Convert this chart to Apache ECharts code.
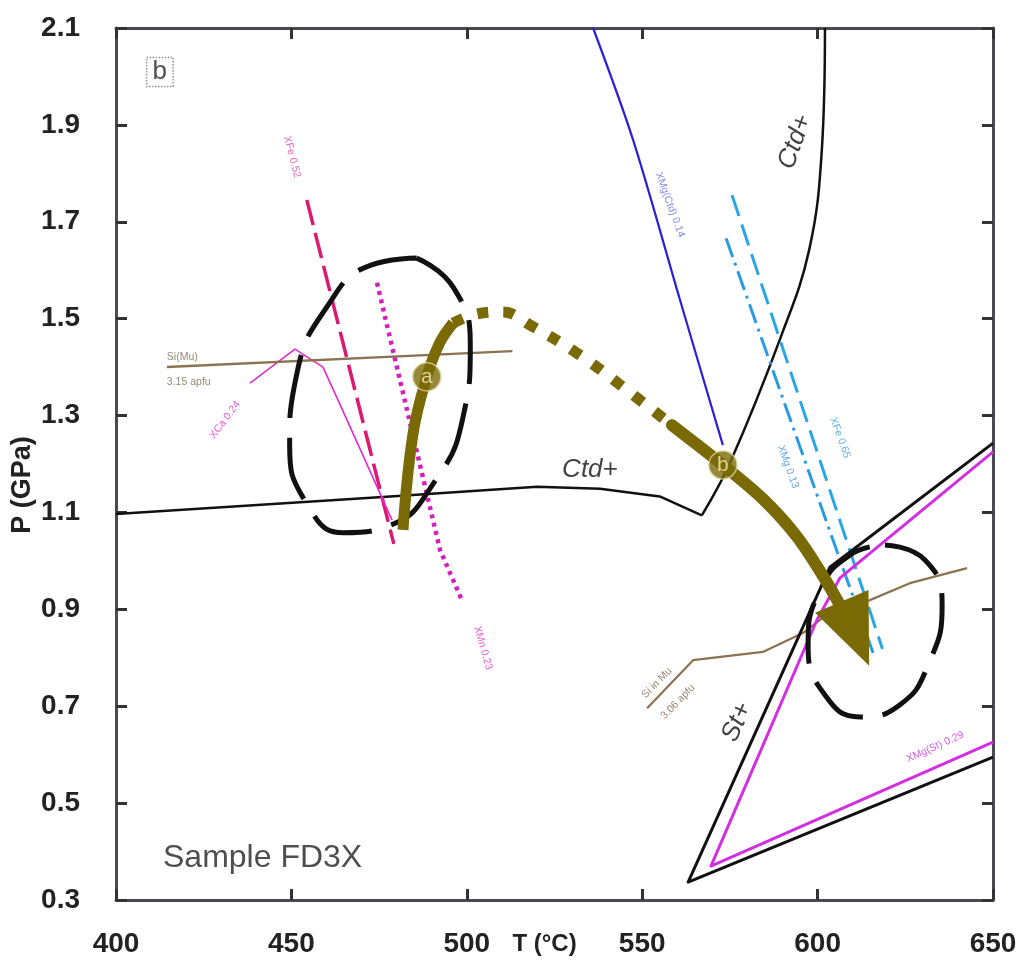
<!DOCTYPE html>
<html><head><meta charset="utf-8">
<script src="https://cdn.jsdelivr.net/npm/echarts@6/dist/echarts.min.js"></script>
<style>html,body{margin:0;padding:0;background:#fff}#c{width:1023px;height:971px}</style>
</head><body><div id="c"></div>
<script>
// ---- axes ----
const xRange = [400, 650];
const yRange = [0.3, 2.1];
const xStep = 50;
const yStep = 0.2;

// ---- curves (T in °C, P in GPa) ----
const ctdLower = [[400,1.097],[476,1.132],[520,1.153],[538,1.149],[555,1.133],[567,1.094]];
const ctdUpper = [[567,1.094],[575,1.202],[589.5,1.462],[597.6,1.642],[601.2,1.848],[602.1,2.1]];
const xMgCtd = [[536,2.1],[547.4,1.869],[560.8,1.538],[573,1.239]];
const xFe065 = [[575.6,1.755],[618.5,0.818]];
const xMg013 = [[573.9,1.666],[616.0,0.806]];
const xFe052 = [[454.4,1.745],[479.2,1.035]];
const xMn023 = [[474.4,1.574],[492.4,1.022],[498.6,0.919]];
const xCa024 = [[438.2,1.367],[451.0,1.437],[459.0,1.400],[463.9,1.322],[476.1,1.126],[478.7,1.084]];
const siMu315 = [[414.5,1.400],[513,1.433]];
const siMu306 = [[551.4,0.696],[564.5,0.795],[584.4,0.812],[595.8,0.851],[604.4,0.899],[614.9,0.919],[626.3,0.954],[642.6,0.985]];
const stBlack = [[650,1.243],[603.5,0.987],[563.1,0.337],[650,0.595]];
const stMagenta = [[650,1.225],[606.4,0.965],[599.8,0.878],[569.6,0.370],[650,0.626]];
const ellipseA = [[485.7,1.625],[496.2,1.564],[501.0,1.443],[498.9,1.296],[490.5,1.160],[478.0,1.073],[464.8,1.058],[454.3,1.119],[449.5,1.240],[451.6,1.388],[460.0,1.523],[472.5,1.610],[485.7,1.625]];
const ellipseB = [[619.2,1.033],[630.6,1.002],[635.5,0.909],[631.5,0.785],[623.5,0.703],[612.1,0.678],[602.1,0.723],[597.3,0.827],[600.7,0.940],[609.2,1.012],[619.2,1.033]];
const pathA = [[481.8,1.064],[484.7,1.264],[488.6,1.380],[492.2,1.449],[496.1,1.491]];
const pathDots = [[496.1,1.491],[503,1.510],[510.3,1.514],[518,1.487],[531.4,1.429],[544.5,1.359],[558.5,1.280]];
const pathB = [[558.5,1.280],[573,1.198],[584.4,1.128],[594.1,1.050],[602.7,0.955],[610.8,0.850]];
const stages = [['a',488.6,1.380],['b',573,1.198]];

// ---- annotations: text, T, P ----
const bigLabels = [['Ctd+',535.1,1.188],['Ctd+',593.6,1.865],['St+',577.0,0.667]];
const smallLabels = [
  ['XFe 0.52',450.2,1.834],['XMn 0.23',504.6,0.820],['XCa 0.24',431.1,1.291],
  ['XMg(Ctd) 0.14',557.9,1.735],['XFe 0.65',606.4,1.254],['XMg 0.13',591.6,1.194],
  ['Si in Mu',554.2,0.748],['3.06 apfu',560.2,0.709],['XMg(St) 0.29',633.5,0.616]
];
const siLabels = [['Si(Mu)',414.5,1.421],['3.15 apfu',414.5,1.369]];
const sampleLabel = ['Sample FD3X',413.4,0.387];
const panelLabel = ['b',412.5,2.009];

const FONT = '"Liberation Sans", Arial, sans-serif';
const OLIVE = '#7a6a06';
const bigRot = [0, 70, 66];
const smallStyle = [
  {c:'#e040b0',r:-75.7},{c:'#e030c8',r:-74},{c:'#e030c8',r:53},
  {c:'#6b6be8',r:-70},{c:'#3aa0e0',r:-70},{c:'#3a8ee0',r:-70},
  {c:'#7a6a50',r:46},{c:'#7a6a50',r:46},{c:'#d030e0',r:24}
];

function ln(data, color, width, type, opts) {
  return Object.assign({
    type:'line', data:data, symbol:'none', silent:true, animation:false,
    lineStyle:{color:color, width:width, type:type||'solid', cap:'butt', join:'round'}
  }, opts||{});
}

const axisCommon = {
  axisLine:{show:true, lineStyle:{color:'#4a4a52', width:3}},
  axisTick:{show:true, inside:true, length:11, lineStyle:{color:'#333', width:3}},
  splitLine:{show:false}
};
const tickFont = {fontSize:28, fontWeight:'bold', color:'#222', fontFamily:FONT};

const series = [
  ln(ctdLower,'#111',2.5),
  ln(ctdUpper,'#111',2.5,'solid',{smooth:0.4}),
  ln(xMgCtd,'#2b20d8',2.2,'solid',{smooth:0.3}),
  ln(xFe065,'#2aa6e6',3,[22,9]),
  ln(xMg013,'#2a9be2',3,[20,6,3,6]),
  ln(xFe052,'#dc1a72',3.5,[26,8]),
  ln(xMn023,'#d41ebe',4.5,[4,4.5]),
  ln(xCa024,'#e02ccc',1.6),
  ln(siMu315,'#8b7352',2.5),
  ln(siMu306,'#8b7352',2.2),
  ln(stBlack,'#111',3),
  ln(stMagenta,'#d22ee2',3),
  ln(ellipseA,'#111',5,[64,20],{smooth:0.5}),
  ln(ellipseB,'#111',5,[62,20],{smooth:0.5}),
  ln(pathA,OLIVE,11,'solid',{smooth:0.4}),
  ln(pathDots,OLIVE,11,[11,15],{smooth:0.4}),
  {
    type:'line', animation:false, silent:true, smooth:0.3,
    data: pathB.map((d,i)=> i===pathB.length-1
      ? {value:d, symbol:'triangle', symbolSize:[58,70], symbolRotate:203, itemStyle:{color:OLIVE}}
      : {value:d, symbol:'none'}),
    lineStyle:{color:OLIVE, width:12, cap:'round'}
  },
  {
    type:'scatter', animation:false, silent:true, symbol:'circle', symbolSize:28,
    itemStyle:{color:OLIVE, borderColor:'#d9d29a', borderWidth:1.5},
    label:{show:true, position:'inside', formatter:p=>p.data.name, color:'#f4eeb4', fontSize:21, fontFamily:FONT},
    data: stages.map(s=>({name:s[0], value:[s[1],s[2]]})), z:5
  },
  {
    type:'scatter', animation:false, silent:true, symbolSize:0,
    data: bigLabels.map((s,i)=>({value:[s[1],s[2]], label:{show:true, position:'inside', formatter:s[0], rotate:bigRot[i], fontSize:26, fontStyle:'italic', color:'#111', fontFamily:FONT}}))
  },
  {
    type:'scatter', animation:false, silent:true, symbolSize:0,
    data: smallLabels.map((s,i)=>({value:[s[1],s[2]], label:{show:true, position:'inside', formatter:s[0], rotate:smallStyle[i].r, fontSize:10.5, color:smallStyle[i].c, fontFamily:FONT}}))
  },
  {
    type:'scatter', animation:false, silent:true, symbolSize:0,
    data: siLabels.map(s=>({value:[s[1],s[2]], label:{show:true, position:'right', distance:0, formatter:s[0], fontSize:10.5, color:'#7a6a50', fontFamily:FONT}}))
  },
  {
    type:'scatter', animation:false, silent:true, symbolSize:0,
    data:[{value:[sampleLabel[1],sampleLabel[2]], label:{show:true, position:'right', distance:0, formatter:sampleLabel[0], fontSize:32, color:'#222', fontFamily:FONT}},
          {value:[panelLabel[1],panelLabel[2]], label:{show:true, position:'inside', formatter:panelLabel[0], fontSize:26, color:'#222', fontFamily:FONT, borderColor:'#777', borderWidth:1.5, borderType:'dotted', padding:[1,6,2,6]}}]
  }
];

const option = {
  backgroundColor:'#fff',
  animation:false,
  grid:{left:116, right:30, top:28, bottom:71, containLabel:false},
  xAxis:[
    Object.assign({type:'value', min:xRange[0], max:xRange[1], interval:xStep, position:'bottom',
      name:'T (°C)', nameLocation:'middle', nameGap:32, nameMoveOverlap:false,
      nameTextStyle:{fontSize:24, fontWeight:'bold', color:'#222', fontFamily:FONT, padding:[0,20,0,0]},
      axisLabel:Object.assign({show:true, margin:30}, tickFont)}, axisCommon),
    Object.assign({type:'value', min:xRange[0], max:xRange[1], interval:xStep, position:'top', axisLabel:{show:false}}, axisCommon)
  ],
  yAxis:[
    Object.assign({type:'value', min:yRange[0], max:yRange[1], interval:yStep, position:'left',
      name:'P (GPa)', nameLocation:'middle', nameGap:80, nameMoveOverlap:false,
      nameTextStyle:{fontSize:27, fontWeight:'bold', color:'#222', fontFamily:FONT, padding:[0,42,0,0]},
      axisLabel:Object.assign({show:true, margin:36, formatter:v=>v.toFixed(1)}, tickFont)}, axisCommon),
    Object.assign({type:'value', min:yRange[0], max:yRange[1], interval:yStep, position:'right', axisLabel:{show:false}}, axisCommon)
  ],
  series: series
};
const chart = echarts.init(document.getElementById('c'));
chart.setOption(option);
</script>
</body></html>
